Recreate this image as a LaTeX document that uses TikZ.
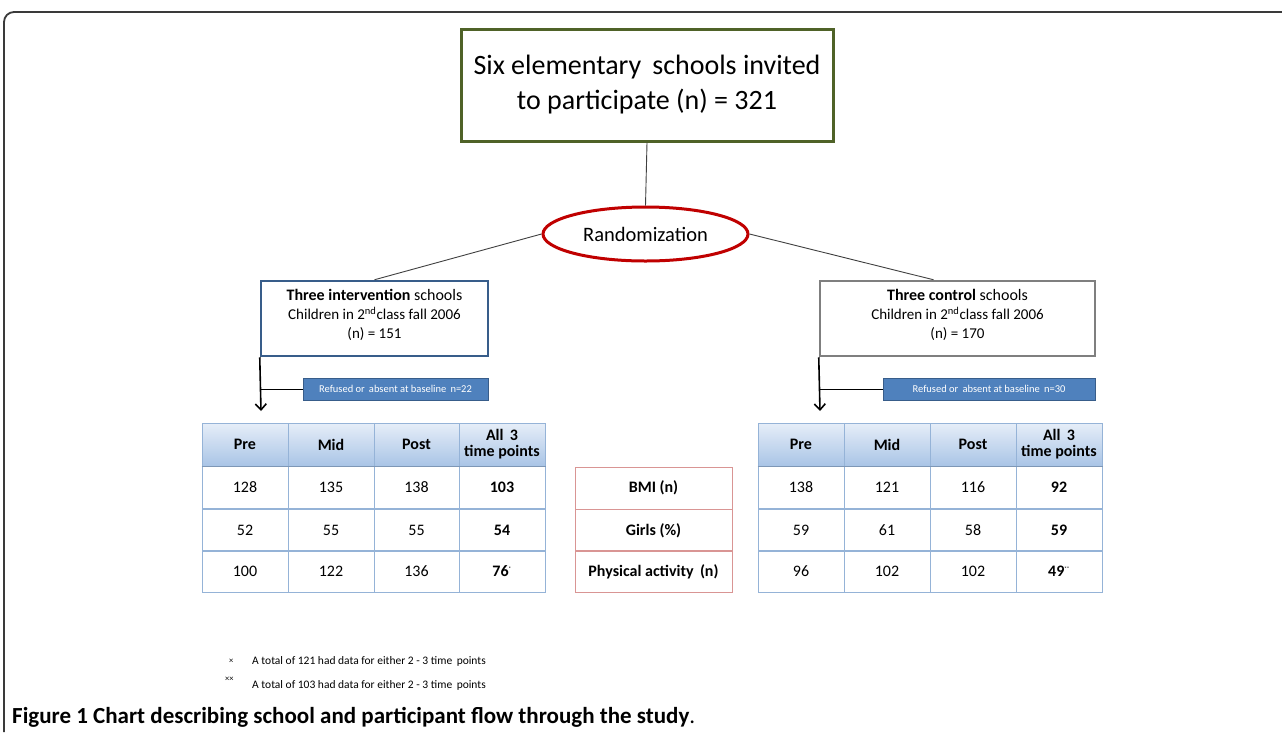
\documentclass[tikz,border=0pt]{standalone}
\usepackage{fontspec}
\setmainfont{Carlito}
\usetikzlibrary{shapes.geometric,arrows.meta,calc}
\definecolor{boxgreen}{HTML}{4F6228}
\definecolor{ellred}{HTML}{C00000}
\definecolor{boxblue}{HTML}{385D8A}
\definecolor{boxgray}{HTML}{7F7F7F}
\definecolor{refblue}{HTML}{4F81BD}
\definecolor{refedge}{HTML}{385D8A}
\definecolor{gridblue}{HTML}{95B3D7}
\definecolor{hdrtop}{HTML}{E6EEF8}
\definecolor{hdrbot}{HTML}{A9C4E6}
\definecolor{gridred}{HTML}{D99594}
\definecolor{frame}{HTML}{3A3A3A}
\begin{document}
\begin{tikzpicture}[x=1pt,y=-1pt,
  topbox/.style={draw=boxgreen, line width=3pt, minimum width=372, minimum height=112, align=center, inner sep=0, font=\fontsize{28}{35}\selectfont},
  randell/.style={ellipse, draw=ellred, line width=3pt, minimum width=205, minimum height=54, inner sep=0, font=\fontsize{20.5}{22}\selectfont},
  grpbox/.style={line width=2.5pt, minimum height=75, inner sep=0},
  grptext/.style={align=center, inner sep=0, font=\fontsize{16}{19}\selectfont},
  refbox/.style={fill=refblue, draw=refedge, line width=1pt, minimum height=22, inner sep=0, text=white, font=\fontsize{10.5}{11}\selectfont},
  link/.style={draw=black!75, line width=0.9pt},
  downarrow/.style={draw=black, line width=1.6pt, -{Straight Barb[length=6pt,width=11pt]}},
  hdrcell/.style={draw=gridblue, line width=1pt, top color=hdrtop, bottom color=hdrbot, minimum height=43, inner sep=0, align=center, font=\fontsize{16}{18}\bfseries\selectfont},
  datcell/.style={draw=gridblue, line width=1pt, minimum height=42, inner sep=0, font=\fontsize{16}{18}\selectfont},
  labcell/.style={draw=gridred, line width=1pt, minimum width=157, minimum height=42, inner sep=0, font=\fontsize{16}{18}\bfseries\selectfont},
  foot/.style={anchor=west, inner sep=0, font=\fontsize{11.5}{12}\selectfont},
  caption/.style={anchor=west, inner sep=0, font=\fontsize{23}{25}\selectfont}
]
\useasboundingbox (0,0) rectangle (1282,732);
\fill[white] (0,0) rectangle (1282,732);
% outer frame
\draw[frame, line width=1.8pt, rounded corners=10pt] (4,732) -- (4,12) -- (1282,12);

% top box and randomization
\node[topbox] (top) at (647,85) {Six elementary\, schools invited\\to participate (n) = 321};
\node[randell] (rand) at (645.5,234) {Randomization};
\draw[link] (top.south) -- (rand.north);

% group boxes
\node[grpbox, draw=boxblue, minimum width=227] (lbox) at (374.5,318.5) {};
\node[grptext] (ltext) at ($(lbox.center)+(0,-3.5)$)
  {\textbf{Three intervention} schools\\
   \fontsize{15}{19}\selectfont Children in 2\textsuperscript{nd}class fall 2006\\
   \fontsize{15}{19}\selectfont (n) = 151};
\node[grpbox, draw=boxgray, minimum width=275] (rbox) at (957.5,318.5) {};
\node[grptext] (rtext) at ($(rbox.center)+(0,-3.5)$)
  {\textbf{Three control} schools\\
   \fontsize{15}{19}\selectfont Children in 2\textsuperscript{nd}class fall 2006\\
   \fontsize{15}{19}\selectfont (n) = 170};
\coordinate (rtop) at ($(rbox.north)+(-24,0)$);
\draw[link] (rand.west) -- (lbox.north);
\draw[link] (rand.east) -- (rtop);

% refused boxes
\node[refbox, minimum width=185] (lref) at (395.5,389) {Refused or\, absent at baseline\, n=22};
\node[refbox, minimum width=212] (rref) at (989,389) {Refused or\, absent at baseline\, n=30};
\coordinate (larr) at (261,411);
\coordinate (rarr) at (820,411);
\draw[downarrow] (lbox.south west) -- (larr);
\draw[downarrow] (rbox.south west) -- (rarr);
\draw[black, line width=1pt] (lref.west) -- (lref.west -| lbox.west);
\draw[black, line width=1pt] (rref.west) -- (rref.west -| rbox.west);

% left table
\foreach \t/\x/\w in {Pre/245/86, Mid/331/86, Post/416.5/85}
  \node[hdrcell, minimum width=\w] (L-h-\t) at (\x,444.5) {\t};
\node[hdrcell, minimum width=86] (L-h-All) at (502,444.5) {All\, 3\\[-2pt]time points};
\foreach \r/\y/\a/\b/\c/\d in {1/487.5/128/135/138/103, 2/530/52/55/55/54, 3/571.5/100/122/136/76}{
  \node[datcell, minimum width=86] (L-\r-1) at (245,\y) {\a};
  \node[datcell, minimum width=86] (L-\r-2) at (331,\y) {\b};
  \node[datcell, minimum width=85] (L-\r-3) at (416.5,\y) {\c};
}
\node[datcell, minimum width=86, font=\fontsize{16}{18}\bfseries\selectfont] (L-1-4) at (502,487.5) {103};
\node[datcell, minimum width=86, font=\fontsize{16}{18}\bfseries\selectfont] (L-2-4) at (502,530) {54};
\node[datcell, minimum width=86, font=\fontsize{16}{18}\bfseries\selectfont] (L-3-4) at (502,571.5) {76\textsuperscript{\fontsize{5}{5}\selectfont *}};
\draw[gridblue!70!black, line width=1.5pt, opacity=0.5] (L-h-Pre.south west) -- (L-h-All.south east);

% middle table
\node[labcell] (M-1) at (653.5,488) {BMI (n)};
\node[labcell] (M-2) at (653.5,530.5) {Girls (\%)};
\node[labcell] (M-3) at (653.5,571.5) {Physical activity\, (n)};

% right table
\foreach \t/\x in {Pre/801, Mid/887, Post/973}
  \node[hdrcell, minimum width=86] (R-h-\t) at (\x,444.5) {\t};
\node[hdrcell, minimum width=86] (R-h-All) at (1059,444.5) {All\, 3\\[-2pt]time points};
\foreach \r/\y/\a/\b/\c in {1/487.5/138/121/116, 2/530/59/61/58, 3/571.5/96/102/102}{
  \node[datcell, minimum width=86] (R-\r-1) at (801,\y) {\a};
  \node[datcell, minimum width=86] (R-\r-2) at (887,\y) {\b};
  \node[datcell, minimum width=86] (R-\r-3) at (973,\y) {\c};
}
\node[datcell, minimum width=86, font=\fontsize{16}{18}\bfseries\selectfont] (R-1-4) at (1059,487.5) {92};
\node[datcell, minimum width=86, font=\fontsize{16}{18}\bfseries\selectfont] (R-2-4) at (1059,530) {59};
\node[datcell, minimum width=86, font=\fontsize{16}{18}\bfseries\selectfont] (R-3-4) at (1059,571.5) {49\textsuperscript{\fontsize{5}{5}\selectfont **}};
\draw[gridblue!70!black, line width=1.5pt, opacity=0.5] (R-h-Pre.south west) -- (R-h-All.south east);

% footnotes
\node[foot] (f1m) at (229,661) {\fontsize{8.5}{9}\selectfont ×};
\node[foot] (f1) at (252,661) {A total of 121 had data for either 2 - 3 time\, points};
\node[foot] (f2m) at (225,679) {\fontsize{8.5}{9}\selectfont ××};
\node[foot] (f2) at (252,685) {A total of 103 had data for either 2 - 3 time\, points};

% caption
\node[caption] (cap) at (12,717) {\textbf{Figure 1 Chart describing school and participant flow through the study}.};
\end{tikzpicture}
\end{document}
